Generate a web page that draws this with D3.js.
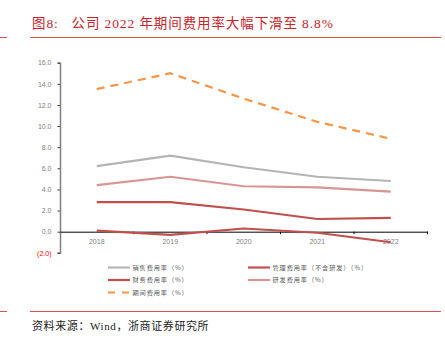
<!DOCTYPE html>
<html>
<head>
<meta charset="utf-8">
<script src="https://d3js.org/d3.v7.min.js"></script>
<style>
  body { margin: 0; background: #fff; }
  .tick text { font-family: "Liberation Sans", Arial, sans-serif; font-size: 7px; fill: #7f7f7f; }
</style>
</head>
<body>
<div id="chart"></div>
<script>
// 年份与各项费用率（%）
var years = ["2018", "2019", "2020", "2021", "2022"];
var sellRate = [6.2, 7.2, 6.1, 5.2, 4.8];
var mgmtRate = [2.8, 2.8, 2.1, 1.2, 1.3];
var finRate = [0.1, -0.3, 0.3, -0.1, -1.0];
var rdRate = [4.4, 5.2, 4.3, 4.2, 3.8];
var periodRate = [13.5, 15.0, 12.6, 10.4, 8.8];
var yTicks = [-2, 0, 2, 4, 6, 8, 10, 12, 14, 16];

var series = [
  { name: "销售费用率（%）", values: sellRate, color: "#b4b4b4", dash: null },
  { name: "管理费用率（不含研发）（%）", values: mgmtRate, color: "#c0504d", dash: null },
  { name: "财务费用率（%）", values: finRate, color: "#c0504d", dash: null },
  { name: "研发费用率（%）", values: rdRate, color: "#d99594", dash: null },
  { name: "期间费用率（%）", values: periodRate, color: "#f79646", dash: "8,6" }
];

var W = 445, H = 344;
var svg = d3.select("#chart").append("svg").attr("width", W).attr("height", H);

var red = "#c8242b";
var serif = "'Liberation Serif', 'Noto Sans CJK SC', serif";

// 标题（编号与正文分开放置）
var title = svg.append("text")
  .attr("y", 28)
  .attr("font-family", serif)
  .attr("font-size", 13.5)
  .attr("letter-spacing", 0.9)
  .attr("fill", red);
title.append("tspan").attr("x", 32).text("图8:");
title.append("tspan").attr("x", 71.5).text("公司 2022 年期间费用率大幅下滑至 8.8%");

// 标题与来源的分隔线
[37.5, 311.5].forEach(function(y) {
  svg.append("line").attr("x1", 0).attr("x2", 7).attr("y1", y).attr("y2", y)
    .attr("stroke", "#d9534f").attr("stroke-width", 1);
  svg.append("line").attr("x1", 30).attr("x2", 441).attr("y1", y).attr("y2", y)
    .attr("stroke", "#d9534f").attr("stroke-width", 1);
});

svg.append("text")
  .attr("x", 32).attr("y", 330)
  .attr("font-family", serif)
  .attr("font-size", 11)
  .attr("letter-spacing", 0.6)
  .attr("fill", "#222")
  .text("资料来源：Wind，浙商证券研究所");

// 比例尺
var x = d3.scaleBand().domain(years).range([60, 427.5]);
var y = d3.scaleLinear().domain([-2, 16]).range([252.8, 62.7]);

// y 轴
var yAxis = svg.append("g")
  .attr("transform", "translate(60,0)")
  .call(d3.axisLeft(y).tickValues(yTicks).tickSize(2.5).tickPadding(6)
    .tickFormat(function(d) { return d < 0 ? "(" + d3.format(".1f")(-d) + ")" : d3.format(".1f")(d); }));
yAxis.select(".domain").attr("stroke", "#808080").attr("stroke-width", 1.5);
yAxis.selectAll(".tick line").attr("stroke", "#404040");
yAxis.selectAll(".tick text").filter(function(d) { return d < 0; }).style("fill", "#ff0000");

// x 轴（零线）
var xAxis = svg.append("g")
  .attr("transform", "translate(0," + y(0) + ")")
  .call(d3.axisBottom(x).tickSize(0).tickPadding(7));
xAxis.select(".domain").attr("stroke", "#000").attr("stroke-width", 1);
// 类别分隔刻度
xAxis.selectAll(".sep")
  .data(years.slice(1).concat(["end"]))
  .enter().append("line")
  .attr("class", "sep")
  .attr("x1", function(d, i) { return x(years[i]) + x.bandwidth(); })
  .attr("x2", function(d, i) { return x(years[i]) + x.bandwidth(); })
  .attr("y1", 0).attr("y2", 2.5)
  .attr("stroke", "#000");

// 折线
var line = d3.line()
  .x(function(d, i) { return x(years[i]) + x.bandwidth() / 2; })
  .y(function(d) { return y(d); });

svg.append("g").selectAll("path")
  .data(series)
  .enter().append("path")
  .attr("d", function(s) { return line(s.values); })
  .attr("fill", "none")
  .attr("stroke", function(s) { return s.color; })
  .attr("stroke-width", 2.2)
  .attr("stroke-dasharray", function(s) { return s.dash; });

// 图例
var legPos = [[108, 267.5], [248, 267.5], [108, 280], [248, 280], [108, 292.5]];
var leg = svg.append("g").selectAll("g")
  .data(series)
  .enter().append("g")
  .attr("transform", function(d, i) { return "translate(" + legPos[i][0] + "," + legPos[i][1] + ")"; });
leg.append("line")
  .attr("x1", 0).attr("x2", 22).attr("y1", 0).attr("y2", 0)
  .attr("stroke", function(s) { return s.color; })
  .attr("stroke-width", 2.2)
  .attr("stroke-dasharray", function(s) { return s.dash ? "7,7" : null; });
leg.append("text")
  .attr("x", 24.5).attr("y", 2.3)
  .attr("font-family", "'Noto Sans CJK SC', sans-serif")
  .attr("font-size", 6.2)
  .attr("letter-spacing", 0.9)
  .attr("fill", "#595959")
  .text(function(s) { return s.name; });
</script>
</body>
</html>
